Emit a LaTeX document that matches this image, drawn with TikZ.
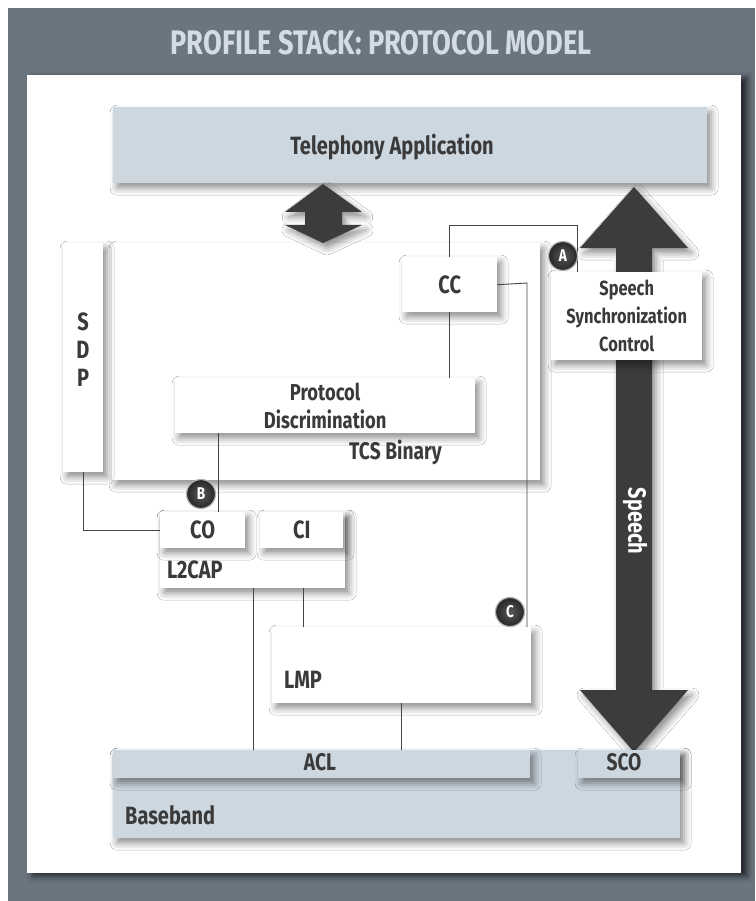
\documentclass[tikz,border=0pt]{standalone}
\usepackage{fontspec}
\setmainfont{Fira Sans}[FakeStretch=0.8]
\usetikzlibrary{shadows.blur}
\definecolor{framec}{HTML}{6B7580}
\definecolor{titlec}{HTML}{D3DCE4}
\definecolor{bluebox}{HTML}{CCD7E0}
\definecolor{ink}{HTML}{3A3A3A}
\definecolor{arrowc}{HTML}{3C3C3C}
\definecolor{wire}{HTML}{454545}
\tikzset{
  sh/.style={blur shadow={shadow xshift=4pt, shadow yshift=-5pt, shadow blur radius=7pt, shadow opacity=45}},
  wbox/.style={fill=white, anchor=north west, inner sep=0pt, sh, text=ink, font=\bfseries\fontsize{25}{28}\selectfont},
  bbox/.style={wbox, fill=bluebox},
  lbl/.style={anchor=west, inner sep=0pt, text=ink, font=\bfseries\fontsize{25}{28}\selectfont},
  wire/.style={draw=wire, line width=0.9pt},
  circ/.style={circle, inner color=black!65, outer color=black!85, draw=black!30, line width=1.2pt, text=white, minimum size=29pt, inner sep=0pt, font=\bfseries\fontsize{17}{17}\selectfont},
  bigarrow/.style={fill=arrowc, sh},
}
\begin{document}
\begin{tikzpicture}[x=1pt, y=-1pt]
\useasboundingbox (0,0) rectangle (755,901);
\fill[white] (0,0) rectangle (755,901);
\fill[framec] (8,8) rectangle (755,901);
% inner panel
\fill[white, blur shadow={shadow xshift=6pt, shadow yshift=-3pt, shadow blur radius=6pt, shadow opacity=70}] (27,75) rectangle (741,873);
\node[text=titlec, font=\bfseries\fontsize{34}{38}\selectfont] (title) at (381,43) {PROFILE STACK: PROTOCOL MODEL};

% boxes
\node[bbox, minimum width=594pt, minimum height=76pt] (tel) at (113,107) {};
\node[anchor=base, inner sep=0pt, text=ink, font=\bfseries\fontsize{25}{28}\selectfont] (tellabel) at (392,155) {Telephony Application};
\node[wbox, minimum width=428pt, minimum height=237pt] (tcs) at (112,243) {};
\node[lbl, font=\bfseries\fontsize{24}{26}\selectfont] (tcslabel) at (349,452) {TCS Binary};
\node[wbox, minimum width=40pt, minimum height=229pt] (sdp) at (63,243) {};
\node[inner sep=0pt, align=center, text=ink, font=\bfseries\fontsize{25}{28}\selectfont] (sdplabel) at (83,350) {S\\D\\P};

% small double arrow
\fill[bigarrow] (323,184) -- (362,212) -- (342,212) -- (342,225) -- (362,225) -- (323,243) -- (285,225) -- (305,225) -- (305,212) -- (285,212) -- cycle;
\coordinate (dblarrow) at (323,215);

% speech arrow
\fill[bigarrow] (634,187) -- (688,248) -- (652,248) -- (652,690) -- (688,690) -- (634,752) -- (580,690) -- (616,690) -- (616,248) -- (580,248) -- cycle;
\node[rotate=-90, text=white, inner sep=0pt, font=\bfseries\fontsize{25}{28}\selectfont] (speech) at (635,521) {Speech};

\node[wbox, minimum width=95pt, minimum height=55pt] (cc) at (402,257) {CC};
\node[wbox, minimum width=300pt, minimum height=55pt, align=center, font=\bfseries\fontsize{23}{28}\selectfont] (pd) at (175,378) {Protocol\\Discrimination};
\node[wbox, minimum width=151pt, minimum height=88pt, align=center, font=\bfseries\fontsize{20.5}{28}\selectfont] (ssc) at (551,272) {Speech\\Synchronization\\Control};

\node[wbox, minimum width=185pt, minimum height=76pt] (l2cap) at (160,512) {};
\node[lbl] (l2caplabel) at (167,570) {L2CAP};
\node[wbox, minimum width=85pt, minimum height=36pt] (co) at (160,512) {CO};
\node[wbox, minimum width=83pt, minimum height=36pt] (ci) at (260,512) {CI};

\node[wbox, minimum width=259pt, minimum height=76pt] (lmp) at (272,627) {};
\node[lbl] (lmplabel) at (284,680) {LMP};

\node[bbox, minimum width=567pt, minimum height=88pt] (base) at (113,750) {};
\node[lbl] (baselabel) at (125,815) {Baseband};
\node[bbox, minimum width=417pt, minimum height=28pt] (acl) at (113,750) {};
\node[inner sep=0pt, text=ink, font=\bfseries\fontsize{24}{26}\selectfont] (acllabel) at (320,762) {ACL};
\node[bbox, minimum width=102pt, minimum height=28pt] (sco) at (578,750) {};
\node[inner sep=0pt, text=ink, font=\bfseries\fontsize{24}{26}\selectfont] (scolabel) at (624,762) {SCO};

% connectors
\coordinate (ja) at (577,225);
\coordinate (jc) at (527,283);
\draw[wire] (cc.north) |- (ja) -- (ja |- ssc.north);
\draw[wire] (cc.east) -- (jc) -- (jc |- lmp.north);
\draw[wire] (cc.south) -- (cc.south |- pd.north);
\coordinate (jb) at (218,433);
\draw[wire] (jb) -- (jb |- co.north);
\draw[wire] (sdp.south) |- (co.west);
\coordinate (jl1) at (253,588);
\coordinate (jl2) at (303,588);
\coordinate (jm) at (401,703);
\draw[wire] (jl1) -- (jl1 |- acl.north);
\draw[wire] (jl2) -- (jl2 |- lmp.north);
\draw[wire] (jm) -- (jm |- acl.north);

% markers
\node[circ] (A) at (563,256) {A};
\node[circ] (B) at (201,494) {B};
\node[circ] (C) at (510,612) {C};
\end{tikzpicture}
\end{document}
